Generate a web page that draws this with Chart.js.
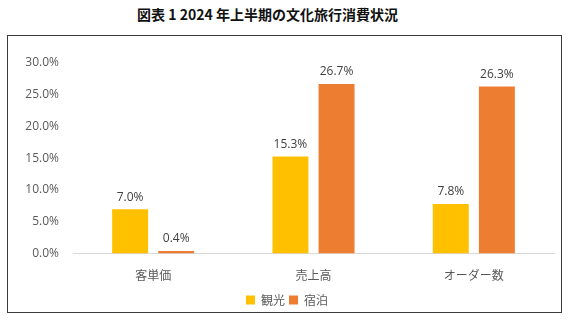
<!DOCTYPE html>
<html lang="ja">
<head>
<meta charset="utf-8">
<script src="https://cdn.jsdelivr.net/npm/chart.js@4/dist/chart.umd.min.js"></script>
<style>
  html, body { margin: 0; padding: 0; background: #fff; }
  body { width: 571px; height: 322px; position: relative; overflow: hidden; }
  .title {
    position: absolute; left: 0; top: 4px; width: 535px; text-align: center;
    font-family: "Noto Sans CJK JP", sans-serif; font-weight: bold; font-size: 14px; color: #111;
  }
  .box {
    position: absolute; left: 7px; top: 35px; width: 553px; height: 276px;
    border: 1px solid #3a3a3a;
  }
  canvas { display: block; position: absolute; left: 0; top: 0; }
</style>
</head>
<body>
<div class="title">図表 1 2024 年上半期の文化旅行消費状況</div>
<div class="box"><canvas id="travelChart" width="553" height="280"></canvas></div>
<script>
const categories = ['客単価', '売上高', 'オーダー数'];
const sightseeing = [7.0, 15.3, 7.8];
const lodging = [0.4, 26.7, 26.3];
const yTicks = [0, 5, 10, 15, 20, 25, 30];

// value labels above each bar
const barLabels = {
    id: 'barLabels',
    afterDatasetsDraw(chart) {
        const ctx = chart.ctx;
        ctx.save();
        ctx.font = '12px "Open Sans", sans-serif';
        ctx.fillStyle = '#404040';
        ctx.textAlign = 'center';
        ctx.textBaseline = 'bottom';
        chart.data.datasets.forEach((ds, i) => {
            chart.getDatasetMeta(i).data.forEach((bar, j) => {
                ctx.fillText(ds.data[j].toFixed(1) + '%', bar.x, bar.y - 6);
            });
        });
        ctx.restore();
    }
};

const ctx = document.getElementById('travelChart').getContext('2d');
const travelChart = new Chart(ctx, {
    type: 'bar',
    data: {
        labels: categories,
        datasets: [
            {
                label: '観光',
                data: sightseeing,
                backgroundColor: '#FFC000',
                barPercentage: 0.78,
                categoryPercentage: 0.575
            },
            {
                label: '宿泊',
                data: lodging,
                backgroundColor: '#ED7D31',
                barPercentage: 0.78,
                categoryPercentage: 0.575
            }
        ]
    },
    options: {
        responsive: false,
        animation: false,
        layout: { padding: { top: 27, right: 7, bottom: 0, left: 12 } },
        plugins: {
            tooltip: { enabled: false },
            legend: {
                position: 'bottom',
                labels: {
                    boxWidth: 9,
                    boxHeight: 9,
                    padding: 4,
                    color: '#595959',
                    font: { family: '"Noto Sans CJK JP", sans-serif', size: 12 }
                }
            }
        },
        scales: {
            x: {
                grid: { display: false },
                border: { color: '#d9d9d9' },
                ticks: {
                    color: '#595959',
                    padding: 7,
                    font: { family: '"Noto Sans CJK JP", sans-serif', size: 12 }
                }
            },
            y: {
                min: 0,
                max: 30,
                grid: { display: false },
                border: { display: false },
                afterFit(scale) { scale.width = 53; },
                afterBuildTicks(scale) { scale.ticks = yTicks.map(v => ({ value: v })); },
                ticks: {
                    color: '#595959',
                    padding: 6,
                    font: { family: '"Open Sans", sans-serif', size: 12 },
                    callback: v => v.toFixed(1) + '%'
                }
            }
        }
    },
    plugins: [barLabels]
});
</script>
</body>
</html>
